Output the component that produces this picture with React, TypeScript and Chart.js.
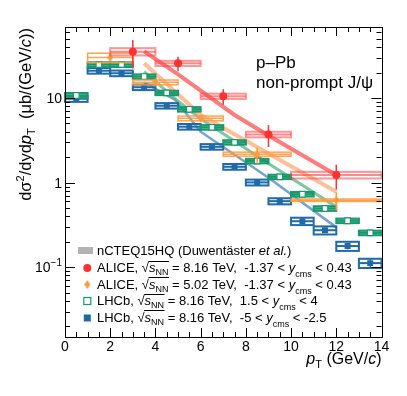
import { useEffect, useRef } from "react";
import { Chart, registerables } from "chart.js";
Chart.register(...registerables);

const W = 407;
const H = 396;
const FONT = "'Liberation Sans', Arial, Helvetica, sans-serif";

// ---------- DATA ----------
// ALICE sqrt(sNN)=8.16 TeV
const alicePt = [3, 5, 7, 9, 12];
const aliceLo = [2, 4, 6, 8, 10];
const aliceHi = [4, 6, 8, 10, 14];
const aliceVal = [35.3, 25.7, 10.5, 3.71, 1.23];
const aliceStat = [13, 5, 2.2, 1.07, 0.4];
const aliceSys = [3.5, 1.8, 0.75, 0.28, 0.11];

// ALICE sqrt(sNN)=5.02 TeV
const alice5Pt = [2, 4, 6, 8.5, 12];
const alice5Lo = [1, 3, 5, 7, 10];
const alice5Hi = [3, 5, 7, 10, 14];
const alice5Val = [30.0, 15.3, 5.75, 2.17, 0.62];
const alice5Stat = [1.5, 1.0, 0.3, 0.45, 0.15];
const alice5Sys = [3.8, 1.0, 0.37, 0.12, 0.02];

// LHCb bins
const lhcbPt = [0.5, 1.5, 2.5, 3.5, 4.5, 5.5, 6.5, 7.5, 8.5, 9.5, 10.5, 11.5, 12.5, 13.5];
const lhcbLo = [0, 1, 2, 3, 4, 5, 6, 7, 8, 9, 10, 11, 12, 13];
const lhcbHi = [1, 2, 3, 4, 5, 6, 7, 8, 9, 10, 11, 12, 13, 14];
// LHCb 1.5 < y < 4
const lhcbFwdVal = [10.7, 24.8, 24.8, 17.9, 11.5, 7.35, 4.5, 2.99, 1.8, 1.17, 0.73, 0.495, 0.354, 0.255];
const lhcbFwdStat = [0.2, 0.4, 0.4, 0.3, 0.2, 0.12, 0.08, 0.06, 0.04, 0.03, 0.025, 0.02, 0.018, 0.015];
const lhcbFwdSys = [0.75, 1.6, 1.6, 1.1, 0.7, 0.45, 0.28, 0.18, 0.11, 0.07, 0.045, 0.031, 0.022, 0.016];
// LHCb -5 < y < -2.5
const lhcbBwdVal = [9.8, 21.0, 19.6, 13.4, 8.1, 4.58, 2.65, 1.54, 1.006, 0.604, 0.35, 0.274, 0.178, 0.112];
const lhcbBwdStat = [0.3, 0.5, 0.5, 0.35, 0.2, 0.12, 0.08, 0.05, 0.035, 0.025, 0.02, 0.018, 0.015, 0.012];
const lhcbBwdSys = [0.8, 1.6, 1.5, 1.0, 0.6, 0.35, 0.2, 0.12, 0.08, 0.05, 0.035, 0.03, 0.022, 0.014];

// nCTEQ15HQ model curves
const modelAlicePt = [3.5, 5, 7.5, 9, 12];
const modelAliceVal = [35.5, 19, 6.3, 3.6, 1.23];
const modelAlice5Pt = [3.5, 6, 9, 12];
const modelAlice5Val = [25.7, 6.29, 2.21, 0.78];
const modelFwdPt = [3.5, 4.94, 6, 9, 12];
const modelFwdVal = [20.5, 9.47, 5.7, 1.68, 0.517];
const modelBwdPt = [3.5, 4.88, 6, 9, 12];
const modelBwdVal = [15.2, 9.47, 4.0, 1.14, 0.296];

// axis ticks
const xTickLabels = [0, 2, 4, 6, 8, 10, 12, 14];
const yTickValues = [0.1, 1, 10];
const yTickBase = ["10", "1", "10"];
const yTickExp = ["\u22121", "", ""];

// ---------- STYLE ----------
const RED = "#ff3131";
const ORANGE = "#ff9a3c";
const GREEN = "#17996c";
const BLUE = "#1f6aa8";

type Series = {
  key: string;
  pt: number[];
  lo: number[];
  hi: number[];
  val: number[];
  stat: number[];
  sys: number[];
  boxColor: string;
  boxFill: string | null;
  boxLW: number;
  lineColor: string;
  lineLW: number;
  statColor: string;
};

const series: Series[] = [
  { key: "bwd", pt: lhcbPt, lo: lhcbLo, hi: lhcbHi, val: lhcbBwdVal, stat: lhcbBwdStat, sys: lhcbBwdSys,
    boxColor: BLUE, boxFill: null, boxLW: 2, lineColor: BLUE, lineLW: 2, statColor: BLUE },
  { key: "fwd", pt: lhcbPt, lo: lhcbLo, hi: lhcbHi, val: lhcbFwdVal, stat: lhcbFwdStat, sys: lhcbFwdSys,
    boxColor: GREEN, boxFill: "rgba(23,153,108,0.55)", boxLW: 2, lineColor: GREEN, lineLW: 2, statColor: GREEN },
  { key: "a5", pt: alice5Pt, lo: alice5Lo, hi: alice5Hi, val: alice5Val, stat: alice5Stat, sys: alice5Sys,
    boxColor: "rgba(255,154,60,0.9)", boxFill: null, boxLW: 1.5, lineColor: "rgba(255,154,60,0.9)", lineLW: 1.5, statColor: ORANGE },
  { key: "a8", pt: alicePt, lo: aliceLo, hi: aliceHi, val: aliceVal, stat: aliceStat, sys: aliceSys,
    boxColor: "rgba(255,60,60,0.55)", boxFill: null, boxLW: 2, lineColor: "rgba(255,60,60,0.6)", lineLW: 2, statColor: RED },
];

type Run = { t: string; it?: boolean; size?: number; dy?: number; ol?: boolean };

function fontOf(r: Run, base: number) {
  return `${r.it ? "italic " : ""}${r.size ?? base}px ${FONT}`;
}
function runsWidth(ctx: CanvasRenderingContext2D, runs: Run[], base: number) {
  let w = 0;
  for (const r of runs) {
    ctx.font = fontOf(r, base);
    w += ctx.measureText(r.t).width;
  }
  return w;
}
function drawRuns(ctx: CanvasRenderingContext2D, x: number, y: number, runs: Run[], base: number, align = "left", color = "#000") {
  const w = runsWidth(ctx, runs, base);
  let cx = align === "right" ? x - w : align === "center" ? x - w / 2 : x;
  ctx.fillStyle = color;
  ctx.strokeStyle = color;
  ctx.textBaseline = "alphabetic";
  ctx.textAlign = "left";
  for (const r of runs) {
    ctx.font = fontOf(r, base);
    ctx.fillText(r.t, cx, y + (r.dy ?? 0));
    const rw = ctx.measureText(r.t).width;
    if (r.ol) {
      ctx.lineWidth = 1;
      ctx.beginPath();
      const oy = Math.round(y - base * 0.86) + 0.5;
      ctx.moveTo(cx - 0.5, oy);
      ctx.lineTo(cx + rw + 0.5, oy);
      ctx.stroke();
    }
    cx += rw;
  }
}

function makeDiamond(color: string, w: number, h: number) {
  const c = document.createElement("canvas");
  c.width = w;
  c.height = h;
  const g = c.getContext("2d")!;
  g.fillStyle = color;
  g.beginPath();
  g.moveTo(w / 2, 0);
  g.lineTo(w, h / 2);
  g.lineTo(w / 2, h);
  g.lineTo(0, h / 2);
  g.closePath();
  g.fill();
  return c;
}

function drawBoxes(chart: any, s: Series) {
  const ctx: CanvasRenderingContext2D = chart.ctx;
  const xs = chart.scales.x;
  const ys = chart.scales.y;
  ctx.save();
  for (let i = 0; i < s.pt.length; i++) {
    const x0 = xs.getPixelForValue(s.lo[i]);
    const x1 = xs.getPixelForValue(s.hi[i]);
    const xc = xs.getPixelForValue(s.pt[i]);
    const yv = ys.getPixelForValue(s.val[i]);
    const yt = ys.getPixelForValue(s.val[i] + s.sys[i]);
    const yb = ys.getPixelForValue(s.val[i] - s.sys[i]);
    if (s.boxFill) {
      ctx.fillStyle = s.boxFill;
      ctx.fillRect(x0, yt, x1 - x0, yb - yt);
    }
    ctx.strokeStyle = s.boxColor;
    ctx.lineWidth = s.boxLW;
    ctx.strokeRect(x0, yt, x1 - x0, yb - yt);
    ctx.strokeStyle = s.lineColor;
    ctx.lineWidth = s.lineLW;
    ctx.beginPath();
    ctx.moveTo(x0, yv);
    ctx.lineTo(x1, yv);
    ctx.stroke();
    const st = ys.getPixelForValue(s.val[i] + s.stat[i]);
    const sb = ys.getPixelForValue(Math.max(s.val[i] - s.stat[i], 1e-4));
    ctx.strokeStyle = s.statColor;
    ctx.lineWidth = 1.5;
    ctx.beginPath();
    ctx.moveTo(xc, st);
    ctx.lineTo(xc, sb);
    ctx.stroke();
  }
  ctx.restore();
}

function drawDecor(chart: any) {
  const ctx: CanvasRenderingContext2D = chart.ctx;
  const xs = chart.scales.x;
  const ys = chart.scales.y;
  const a = chart.chartArea;
  ctx.save();
  // frame
  ctx.strokeStyle = "#000";
  ctx.lineWidth = 1;
  ctx.strokeRect(Math.round(a.left) + 0.5, Math.round(a.top) + 0.5, Math.round(a.right - a.left), Math.round(a.bottom - a.top));
  // x ticks
  ctx.beginPath();
  for (let k = 0; k <= 28; k++) {
    const v = k * 0.5;
    const px = Math.round(xs.getPixelForValue(v)) + 0.5;
    const len = k % 4 === 0 ? 9 : 5;
    ctx.moveTo(px, a.bottom);
    ctx.lineTo(px, a.bottom - len);
    ctx.moveTo(px, a.top);
    ctx.lineTo(px, a.top + len);
  }
  // y ticks
  for (let e = -2; e <= 1; e++) {
    for (let m = 1; m <= 9; m++) {
      const v = m * Math.pow(10, e);
      if (v < ys.min || v > ys.max) continue;
      const py = Math.round(ys.getPixelForValue(v)) + 0.5;
      const len = m === 1 ? 10 : 5;
      ctx.moveTo(a.left, py);
      ctx.lineTo(a.left + len, py);
      ctx.moveTo(a.right, py);
      ctx.lineTo(a.right - len, py);
    }
  }
  ctx.stroke();

  // x tick labels
  ctx.fillStyle = "#000";
  ctx.font = `14px ${FONT}`;
  ctx.textAlign = "center";
  ctx.textBaseline = "alphabetic";
  for (const v of xTickLabels) {
    ctx.fillText(String(v), xs.getPixelForValue(v), 351);
  }
  // y tick labels
  for (let i = 0; i < yTickValues.length; i++) {
    const py = ys.getPixelForValue(yTickValues[i]);
    const runs: Run[] = [{ t: yTickBase[i] }];
    if (yTickExp[i]) runs.push({ t: yTickExp[i], size: 10, dy: -6 });
    drawRuns(ctx, 62, py + 5, runs, 14, "right");
  }

  // x title
  drawRuns(ctx, a.right, 364, [
    { t: "p", it: true },
    { t: "T", size: 11, dy: 4 },
    { t: " (GeV/" },
    { t: "c", it: true },
    { t: ")" },
  ], 16, "right");

  // y title (rotated)
  ctx.save();
  ctx.translate(31, a.top + 1);
  ctx.rotate(-Math.PI / 2);
  drawRuns(ctx, 0, 0, [
    { t: "d\u03c3" },
    { t: "2", size: 11, dy: -7 },
    { t: "/dyd" },
    { t: "p", it: true },
    { t: "T", size: 11, dy: 4 },
    { t: "  (\u03bcb/(GeV/" },
    { t: "c", it: true },
    { t: "))" },
  ], 16.5, "right");
  ctx.restore();

  // header text
  drawRuns(ctx, 256, 68, [{ t: "p\u2013Pb" }], 17);
  drawRuns(ctx, 256, 88, [{ t: "non-prompt J/\u03c8" }], 17);

  // legend
  const lx = 97;
  const mx = 87.3;
  ctx.fillStyle = "#b3b3b3";
  ctx.fillRect(78, 247, 15, 7);
  drawRuns(ctx, lx, 255, [{ t: "nCTEQ15HQ (Duwent\u00e4ster " }, { t: "et al.", it: true }, { t: ")" }], 13);

  const sq: Run[] = [{ t: "\u221a" }, { t: "s", it: true, ol: true }, { t: "NN", size: 9, dy: 3, ol: true }];
  const ycms: Run[] = [{ t: "y", it: true }, { t: "cms", size: 9, dy: 5 }];
  // red circle
  ctx.fillStyle = RED;
  ctx.beginPath();
  ctx.arc(mx, 268, 4, 0, Math.PI * 2);
  ctx.fill();
  drawRuns(ctx, lx, 272, [{ t: "ALICE, " }, ...sq, { t: " = 8.16 TeV,  -1.37 < " }, ...ycms, { t: " < 0.43" }], 13);
  // orange diamond
  ctx.drawImage(makeDiamond(ORANGE, 6, 9), mx - 3, 284.5 - 4.5);
  drawRuns(ctx, lx, 288.5, [{ t: "ALICE, " }, ...sq, { t: " = 5.02 TeV,  -1.37 < " }, ...ycms, { t: " < 0.43" }], 13);
  // green open square
  ctx.fillStyle = "#fff";
  ctx.strokeStyle = GREEN;
  ctx.lineWidth = 1.2;
  ctx.fillRect(mx - 3.5, 301 - 3.5, 7, 7);
  ctx.strokeRect(mx - 3.5, 301 - 3.5, 7, 7);
  drawRuns(ctx, lx, 305, [{ t: "LHCb, " }, ...sq, { t: " = 8.16 TeV,  1.5 < " }, ...ycms, { t: " < 4" }], 13);
  // blue filled square
  ctx.fillStyle = BLUE;
  ctx.fillRect(mx - 3.5, 318 - 3.5, 7, 7);
  drawRuns(ctx, lx, 321.5, [{ t: "LHCb, " }, ...sq, { t: " = 8.16 TeV,  -5 < " }, ...ycms, { t: " < -2.5" }], 13);

  ctx.restore();
}

const physicsPlugin = {
  id: "physicsDecor",
  beforeDatasetDraw(chart: any, args: any) {
    const ds = chart.data.datasets[args.index] as any;
    if (ds.seriesKey) {
      const s = series.find((q) => q.key === ds.seriesKey);
      if (s) drawBoxes(chart, s);
    }
  },
  afterDraw(chart: any) {
    drawDecor(chart);
  },
};

function pts(x: number[], y: number[]) {
  return x.map((v, i) => ({ x: v, y: y[i] }));
}

export default function App() {
  const ref = useRef<HTMLCanvasElement>(null);
  useEffect(() => {
    document.body.style.margin = "0";
    const canvas = ref.current!;
    const diamond = makeDiamond(ORANGE, 6, 9);
    const chart = new Chart(canvas, {
      type: "scatter",
      data: {
        datasets: [
          { type: "line", data: pts(modelAlicePt, modelAliceVal), borderColor: "rgba(255,80,80,0.75)", borderWidth: 4, pointRadius: 0, fill: false, order: 10 } as any,
          { type: "line", data: pts(modelAlice5Pt, modelAlice5Val), borderColor: "rgba(255,175,130,0.8)", borderWidth: 4, pointRadius: 0, fill: false, order: 11 } as any,
          { type: "line", data: pts(modelFwdPt, modelFwdVal), borderColor: "rgba(70,175,125,0.7)", borderWidth: 3, pointRadius: 0, fill: false, order: 12 } as any,
          { type: "line", data: pts(modelBwdPt, modelBwdVal), borderColor: "rgba(70,135,190,0.75)", borderWidth: 2.5, pointRadius: 0, fill: false, order: 13 } as any,
          { seriesKey: "bwd", data: pts(lhcbPt, lhcbBwdVal), pointStyle: "rect", pointRadius: 4.2, backgroundColor: BLUE, borderColor: BLUE, borderWidth: 0, order: 3 } as any,
          { seriesKey: "fwd", data: pts(lhcbPt, lhcbFwdVal), pointStyle: "rect", pointRadius: 4.0, backgroundColor: "#fff", borderColor: GREEN, borderWidth: 1.2, order: 2 } as any,
          { seriesKey: "a5", data: pts(alice5Pt, alice5Val), pointStyle: diamond, pointRadius: 4, backgroundColor: ORANGE, borderColor: ORANGE, order: 1 } as any,
          { seriesKey: "a8", data: pts(alicePt, aliceVal), pointStyle: "circle", pointRadius: 4, backgroundColor: RED, borderColor: RED, borderWidth: 0, order: 0 } as any,
        ],
      },
      options: {
        animation: false,
        responsive: false,
        devicePixelRatio: 1,
        layout: { padding: { left: 65, right: 25.5, top: 27, bottom: 59 } },
        plugins: { legend: { display: false }, tooltip: { enabled: false } },
        scales: {
          x: { type: "linear", min: 0, max: 14, display: false },
          y: { type: "logarithmic", min: 0.015, max: 69, display: false },
        },
      },
      plugins: [physicsPlugin],
    });
    return () => chart.destroy();
  }, []);
  return (
    <div style={{ position: "absolute", left: 0, top: 0, width: W, height: H, background: "#fff" }}>
      <canvas ref={ref} width={W} height={H} style={{ width: W, height: H }} />
    </div>
  );
}
